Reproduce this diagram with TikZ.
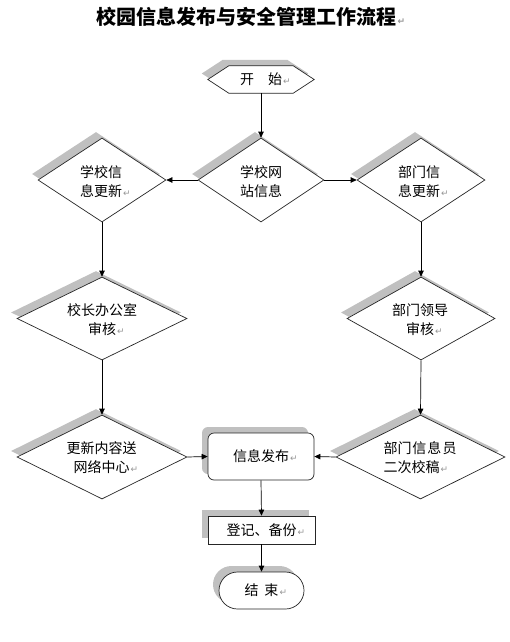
\documentclass[tikz,border=0pt]{standalone}
\usepackage{fontspec}
\setmainfont{Noto Sans CJK SC}
\newfontfamily\markfont{DejaVu Sans}
\usetikzlibrary{shapes.geometric,shadows,arrows.meta,calc,backgrounds}
\definecolor{shgray}{RGB}{192,192,192}
\definecolor{markgray}{RGB}{150,150,150}
\newcommand\parmark{\rlap{\hspace{1pt}\markfont\fontsize{9}{9}\selectfont\textcolor{markgray}{↵}}}
\begin{document}
\begin{tikzpicture}[x=1pt,y=-1pt,
  shad/.style={drop shadow={opacity=1, shadow xshift=-6pt, shadow yshift=6pt, fill=shgray}},
  dia/.style={diamond, draw=black!85, line width=0.7pt, fill=white, inner sep=0pt, shad},
  txt/.style={font=\fontsize{14}{19}\selectfont, align=center, inner sep=0pt},
  box/.style={draw=black!85, line width=0.7pt, fill=white, inner sep=0pt, shad, font=\fontsize{14}{19}\selectfont},
  arr/.style={-{Triangle[length=6pt,width=5.5pt]}, line width=0.7pt}
]
\begin{pgfonlayer}{background}
\fill[white] (0,0) rectangle (509,642);
\end{pgfonlayer}
\useasboundingbox (0,0) rectangle (509,642);

% title
\node[inner sep=0pt, font=\fontsize{20}{24}\selectfont\bfseries] (title) at (246.5,17) {校园信息发布与安全管理工作流程\parmark};

% start hexagon
\node[inner sep=0pt, minimum width=106pt, minimum height=27pt, font=\fontsize{14}{19}\selectfont] (start) at (261,79.5) {开　始\parmark};
\begin{pgfonlayer}{background}
\fill[shgray, transform canvas={shift={(-6pt,6pt)}}] (start.west) -- ($(start.north west)+(21,0)$) -- ($(start.north east)+(-21,0)$) -- (start.east) -- ($(start.south east)+(-21,0)$) -- ($(start.south west)+(21,0)$) -- cycle;
\filldraw[fill=white, draw=black!85, line width=0.7pt] (start.west) -- ($(start.north west)+(21,0)$) -- ($(start.north east)+(-21,0)$) -- (start.east) -- ($(start.south east)+(-21,0)$) -- ($(start.south west)+(21,0)$) -- cycle;
\end{pgfonlayer}

% diamonds
\node[dia, minimum width=126pt, minimum height=84pt] (d0) at (261,180) {};
\node[dia, minimum width=128pt, minimum height=84pt] (dl1) at (102,180) {};
\node[dia, minimum width=128pt, minimum height=84pt] (dr1) at (421,180) {};
\node[dia, minimum width=170pt, minimum height=83pt] (dl2) at (102,318.5) {};
\node[dia, minimum width=148pt, minimum height=83pt] (dr2) at (421,318.5) {};
\node[dia, minimum width=170pt, minimum height=84pt] (dl3) at (102,457) {};
\node[dia, minimum width=169pt, minimum height=84pt] (dr3) at (420.5,457) {};

\node[txt] (t0) at (261,181.5) {学校网\\站信息};
\node[txt, align=left] (tl1) at (101,181.5) {学校信\\息更新\parmark};
\node[txt, align=left] (tr1) at (419,181.5) {部门信\\息更新\parmark};
\node[txt] (tl2) at (102,319.5) {校长办公室\\审核\parmark};
\node[txt] (tr2) at (420,319.5) {部门领导\\审核\parmark};
\node[txt] (tl3) at (101.5,458) {更新内容送\\网络中心\parmark};
\node[txt, align=left] (tr3) at (420,458) {部门\kern1pt 信\kern1pt 息\kern1pt 员\\二次校稿\parmark};

% boxes
\node[box, rounded corners=6pt, minimum width=106pt, minimum height=47pt] (pub) at (261,456.5) {信息发布\parmark};
\node[box, minimum width=107pt, minimum height=28pt] (reg) at (261.5,530) {登记、备份\parmark};
\node[box, rounded corners=18.5pt, minimum width=85pt, minimum height=37pt] (end) at (261.5,590.5) {结\hspace{6pt}束\parmark};

% connectors
\draw[arr] (start.south) -- (d0.north);
\draw[arr] (d0.west) -- (dl1.east);
\draw[arr] (d0.east) -- (dr1.west);
\draw[arr] (dl1.south) -- (dl2.north);
\draw[arr] (dl2.south) -- (dl3.north);
\draw[arr] (dr1.south) -- (dr2.north);
\draw[arr] (dr2.south) -- (dr3.north);
\draw[arr] (dl3.east) -- (pub.west);
\draw[arr] (dr3.west) -- (pub.east);
\draw[arr] (pub.south) -- (reg.north);
\draw[arr] (reg.south) -- (end.north);
\end{tikzpicture}
\end{document}
